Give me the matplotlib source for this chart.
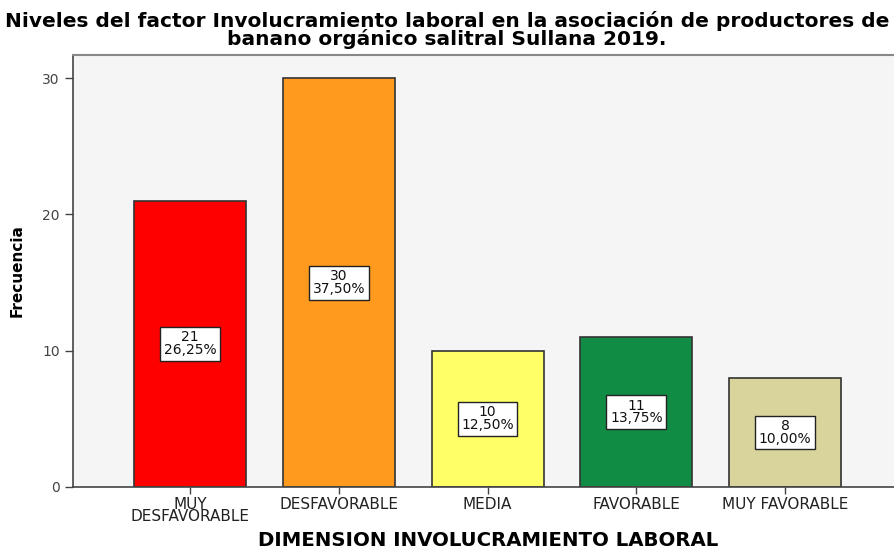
import numpy as np
import matplotlib.pyplot as plt

plt.rcParams['font.family'] = ['DejaVu Sans']

# datos
categorias = ["MUY\nDESFAVORABLE", "DESFAVORABLE", "MEDIA", "FAVORABLE", "MUY FAVORABLE"]
frecuencias = [21, 30, 10, 11, 8]
porcentajes = ["26,25%", "37,50%", "12,50%", "13,75%", "10,00%"]
colores = ['#FF0000', '#FF9A1E', '#FFFF66', '#118C45', '#D8D49C']
yticks = [0, 10, 20, 30]

fig = plt.figure(figsize=(8.94, 5.53), dpi=100)
# axes en pixeles: izquierda 73, abajo 487, arriba 55
ax = fig.add_axes([73 / 894, 66 / 553, 831 / 894, 432 / 553])
ax.set_facecolor('#F5F5F5')

x = np.arange(len(categorias))
ax.bar(x, frecuencias, width=0.753, color=colores, edgecolor='#333333', lw=1.2, zorder=2)

# etiquetas con frecuencia y porcentaje
for xi, f, p in zip(x, frecuencias, porcentajes):
    ax.text(xi, f / 2, '{}\n{}'.format(f, p), ha='center', va='center',
            fontsize=10, linespacing=0.9, color='#111111', zorder=3,
            bbox=dict(boxstyle='square,pad=0.25', fc='white', ec='#222222', lw=1))

ax.set_xlim(-0.787, 4.8)
ax.set_ylim(0, 31.7)
ax.set_xticks(x)
ax.set_xticklabels(categorias, fontsize=11, color='#222222', linespacing=0.75)
ax.set_yticks(yticks)
ax.tick_params(axis='y', labelsize=10, labelcolor='#444444', length=6, color='#444444', width=1)
ax.tick_params(axis='x', length=5, color='#444444', width=1, pad=2)

for s in ['left', 'bottom']:
    ax.spines[s].set_color('#444444')
    ax.spines[s].set_linewidth(1.2)
ax.spines['top'].set_color('#888888')
ax.spines['top'].set_linewidth(1.5)
ax.spines['right'].set_visible(False)

ax.set_ylabel('Frecuencia', fontsize=11, fontweight='bold')
ax.yaxis.set_label_coords(-0.058, 0.5)
fig.text(488 / 894, 1 - 541 / 553, 'DIMENSION INVOLUCRAMIENTO LABORAL', ha='center', va='center',
         fontsize=14.2, fontweight='bold')
fig.text(447 / 894, 1 - 30 / 553,
         'Niveles del factor Involucramiento laboral en la asociación de productores de\nbanano orgánico salitral Sullana 2019.',
         ha='center', va='center', fontsize=14.5, fontweight='bold', linespacing=0.9)

fig.savefig('out.png', dpi=100)
